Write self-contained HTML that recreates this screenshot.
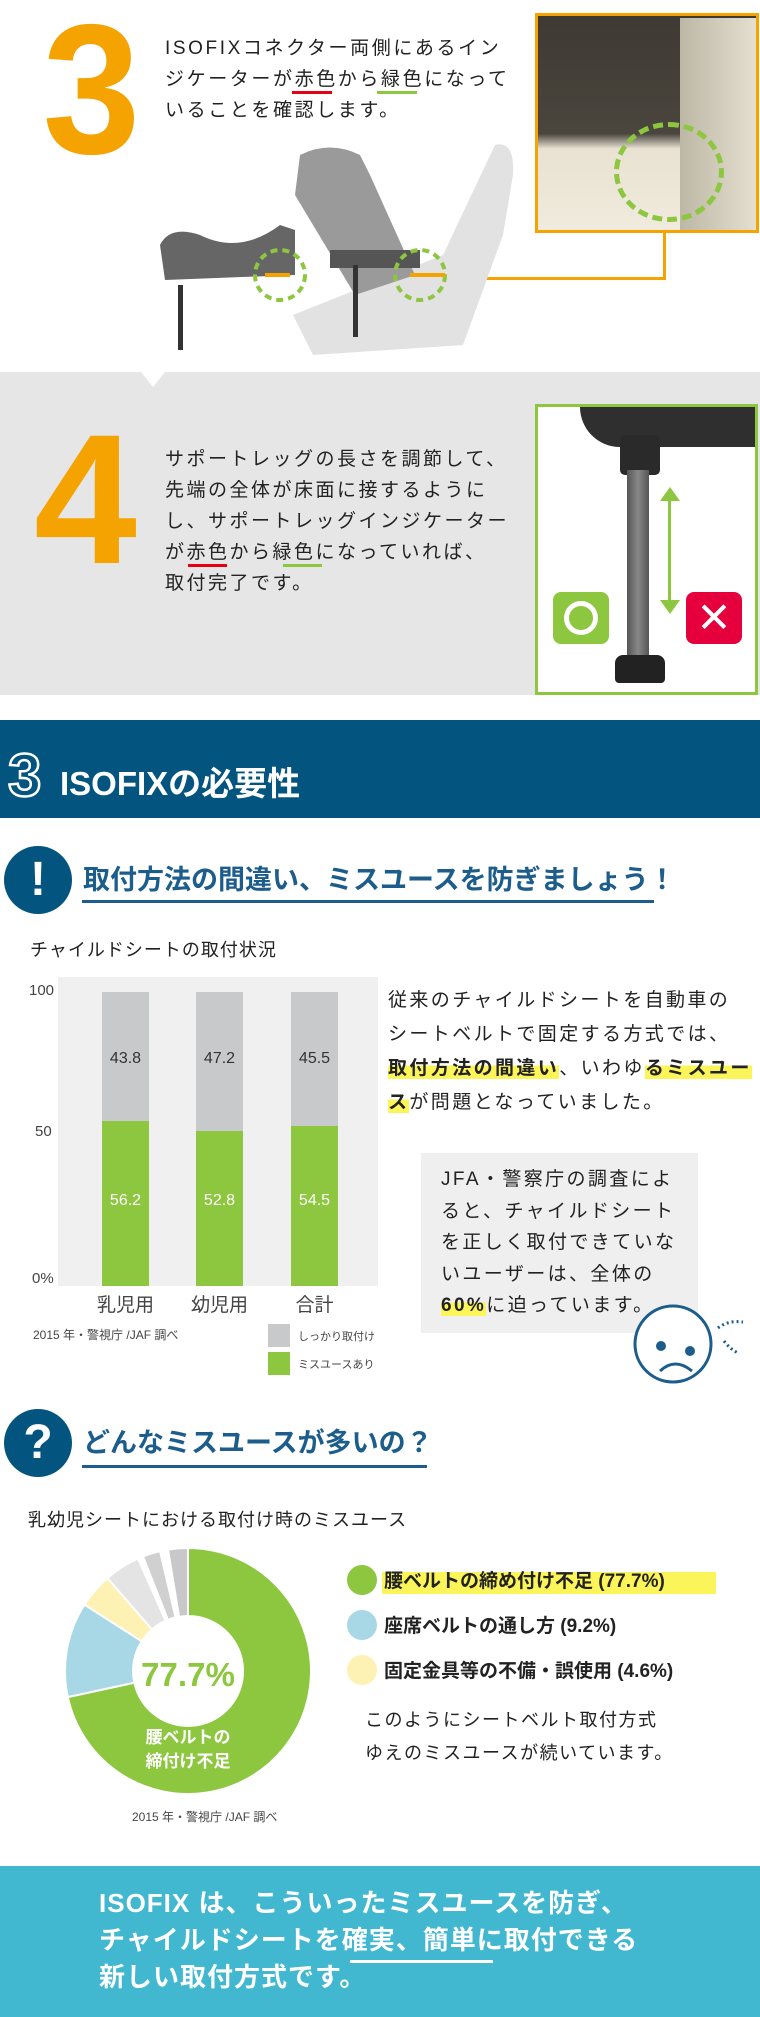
<!DOCTYPE html>
<html><head><meta charset="utf-8"><style>
*{margin:0;padding:0;box-sizing:border-box}
body{width:760px;height:2017px;position:relative;background:#fff;font-family:"Liberation Sans","Noto Sans CJK JP",sans-serif;color:#222;overflow:hidden}
.a{position:absolute;white-space:nowrap}
.p{font-size:19px;letter-spacing:3px;line-height:31px}
.big{font-weight:bold;color:#f5a300;font-size:185px;line-height:1}
.bar{position:absolute;width:47px}
.hl{background:linear-gradient(transparent 35%,#fbf55a 35%)}
</style></head><body>
<!-- step 3 -->
<div class="a big" style="left:40px;top:-2px;transform:scaleX(0.95)">3</div>
<div class="a p" style="left:165px;top:33px;letter-spacing:2.6px">ISOFIXコネクター両側にあるイン<br>ジケーターが赤色から緑色になって<br>いることを確認します。</div>
<div class="a" style="left:292px;top:91px;width:40px;height:3px;background:#e60012"></div>
<div class="a" style="left:377px;top:91px;width:40px;height:3px;background:#8dc63f"></div>
<div class="a" style="left:535px;top:13px;width:224px;height:220px;border:3px solid #f5a300;background:linear-gradient(180deg,#3e3a33 0%,#4a463e 55%,#e9e2d2 62%,#f0ebdd 100%)"></div>
<div class="a" style="left:680px;top:18px;width:76px;height:212px;background:linear-gradient(90deg,#bdb7a6,#e5dfcf)"></div>
<div class="a" style="left:614px;top:122px;width:110px;height:100px;border:5px dashed #8dc63f;border-radius:50%"></div>
<div class="a" style="left:663px;top:233px;width:3px;height:47px;background:#f5a300"></div>
<div class="a" style="left:446px;top:277px;width:220px;height:3px;background:#f5a300"></div>
<svg class="a" style="left:150px;top:135px" width="370" height="220">
<path d="M345 10 q20 -5 18 30 l-10 60 l-40 110 l-150 10 l-20 -40 l150 -60z" fill="#e2e2e2"/>
<path d="M150 20 q30 -15 60 0 l10 20 l45 100 l-60 20 l-60 -100z" fill="#9a9a9a"/>
<rect x="180" y="115" width="90" height="18" fill="#555"/>
<rect x="203" y="130" width="5" height="72" fill="#333"/>
<path d="M10 110 q10 -20 40 -10 q40 20 80 -10 l15 5 l0 45 l-130 5z" fill="#666"/>
<rect x="28" y="150" width="5" height="65" fill="#333"/>
<circle cx="130" cy="140" r="25" fill="none" stroke="#8dc63f" stroke-width="4" stroke-dasharray="7 5"/>
<circle cx="270" cy="140" r="25" fill="none" stroke="#8dc63f" stroke-width="4" stroke-dasharray="7 5"/>
<rect x="115" y="138" width="25" height="4" fill="#f5a300"/>
<rect x="260" y="138" width="35" height="4" fill="#f5a300"/>
</svg>
<!-- step 4 -->
<div class="a" style="left:0;top:372px;width:760px;height:323px;background:#e6e6e7"></div>
<div class="a" style="left:141px;top:372px;width:0;height:0;border-left:12px solid transparent;border-right:12px solid transparent;border-top:15px solid #fff"></div>
<div class="a big" style="left:34px;top:408px">4</div>
<div class="a p" style="left:165px;top:444px;letter-spacing:2.5px">サポートレッグの長さを調節して、<br>先端の全体が床面に接するように<br>し、サポートレッグインジケーター<br>が赤色から緑色になっていれば、<br>取付完了です。</div>
<div class="a" style="left:188px;top:564px;width:39px;height:3px;background:#e60012"></div>
<div class="a" style="left:283px;top:564px;width:39px;height:3px;background:#8dc63f"></div>
<div class="a" style="left:535px;top:404px;width:223px;height:291px;border:3px solid #8dc63f;background:#fff"></div>
<div class="a" style="left:580px;top:407px;width:175px;height:40px;background:#2f2f2f;border-radius:0 0 0 60px"></div>
<div class="a" style="left:620px;top:435px;width:40px;height:40px;background:#2a2a2a;border-radius:5px"></div>
<div class="a" style="left:627px;top:470px;width:22px;height:190px;background:linear-gradient(90deg,#555,#888,#555)"></div>
<div class="a" style="left:615px;top:655px;width:50px;height:28px;background:#222;border-radius:8px 8px 4px 4px"></div>
<div class="a" style="left:668px;top:490px;width:3px;height:110px;background:#8dc63f"></div>
<div class="a" style="left:660px;top:487px;border-left:10px solid transparent;border-right:10px solid transparent;border-bottom:14px solid #8dc63f"></div>
<div class="a" style="left:660px;top:600px;border-left:10px solid transparent;border-right:10px solid transparent;border-top:14px solid #8dc63f"></div>
<div class="a" style="left:553px;top:592px;width:56px;height:52px;background:#8dc63f;border-radius:8px"><div style="margin:9px 0 0 11px;width:34px;height:34px;border:5px solid #fff;border-radius:50%"></div></div>
<div class="a" style="left:686px;top:592px;width:56px;height:52px;background:#e5003d;border-radius:8px;color:#fff;font-size:42px;text-align:center;line-height:52px">✕</div>
<!-- header -->
<div class="a" style="left:0;top:720px;width:760px;height:98px;background:#03557f"></div>
<div class="a" style="left:8px;top:746px;font-size:60px;color:#03557f;-webkit-text-stroke:2.5px #fff;font-weight:bold;line-height:1">3</div>
<div class="a" style="left:60px;top:762px;font-size:33px;font-weight:bold;color:#fff;line-height:44px">ISOFIXの必要性</div>
<!-- ! heading -->
<div class="a" style="left:4px;top:846px;width:68px;height:68px;border-radius:50%;background:#03557f;color:#fff;font-size:48px;font-weight:bold;text-align:center;line-height:68px">!</div>
<div class="a" style="left:83px;top:862px;font-size:27px;font-weight:bold;color:#1c5d8c;line-height:36px">取付方法の間違い、ミスユースを防ぎましょう！</div>
<div class="a" style="left:82px;top:900px;width:572px;height:3px;background:#1c5d8c"></div>
<div class="a" style="left:30px;top:936px;font-size:18px;letter-spacing:1px">チャイルドシートの取付状況</div>
<!-- bar chart -->
<div class="a" style="left:58px;top:977px;width:320px;height:309px;background:#f0f0f0"></div>
<div class="a" style="left:29px;top:982px;font-size:15px;color:#444">100</div>
<div class="a" style="left:35px;top:1123px;font-size:15px;color:#444">50</div>
<div class="a" style="left:32px;top:1270px;font-size:15px;color:#444">0%</div>
<div class="bar" style="left:102px;top:992px;height:129px;background:#c8c9ca"></div>
<div class="bar" style="left:102px;top:1121px;height:165px;background:#8dc63f"></div>
<div class="bar" style="left:196px;top:992px;height:139px;background:#c8c9ca"></div>
<div class="bar" style="left:196px;top:1131px;height:155px;background:#8dc63f"></div>
<div class="bar" style="left:291px;top:992px;height:134px;background:#c8c9ca"></div>
<div class="bar" style="left:291px;top:1126px;height:160px;background:#8dc63f"></div>
<div class="a" style="left:102px;top:1050px;width:47px;text-align:center;font-size:16px;color:#333">43.8</div>
<div class="a" style="left:196px;top:1050px;width:47px;text-align:center;font-size:16px;color:#333">47.2</div>
<div class="a" style="left:291px;top:1050px;width:47px;text-align:center;font-size:16px;color:#333">45.5</div>
<div class="a" style="left:102px;top:1192px;width:47px;text-align:center;font-size:16px;color:#fff">56.2</div>
<div class="a" style="left:196px;top:1192px;width:47px;text-align:center;font-size:16px;color:#fff">52.8</div>
<div class="a" style="left:291px;top:1192px;width:47px;text-align:center;font-size:16px;color:#fff">54.5</div>
<div class="a" style="left:92px;top:1290px;width:67px;text-align:center;font-size:19px;color:#444">乳児用</div>
<div class="a" style="left:186px;top:1290px;width:67px;text-align:center;font-size:19px;color:#444">幼児用</div>
<div class="a" style="left:281px;top:1290px;width:67px;text-align:center;font-size:19px;color:#444">合計</div>
<div class="a" style="left:33px;top:1326px;font-size:12px;color:#444">2015 年・警視庁 /JAF 調べ</div>
<div class="a" style="left:268px;top:1324px;width:22px;height:23px;background:#c8c9ca"></div>
<div class="a" style="left:268px;top:1352px;width:22px;height:23px;background:#8dc63f"></div>
<div class="a" style="left:298px;top:1328px;font-size:11px;color:#444">しっかり取付け</div>
<div class="a" style="left:298px;top:1356px;font-size:11px;color:#444">ミスユースあり</div>
<div class="a p" style="left:388px;top:984px;line-height:34px;letter-spacing:2.4px">従来のチャイルドシートを自動車の<br>シートベルトで固定する方式では、<br><b class="hl">取付方法の間違い</b>、いわゆ<b class="hl">るミスユー<br>ス</b>が問題となっていました。</div>
<div class="a" style="left:421px;top:1153px;width:277px;height:180px;background:#efefef"></div>
<div class="a p" style="left:441px;top:1164px;line-height:31.5px;letter-spacing:2.4px">JFA・警察庁の調査によ<br>ると、チャイルドシート<br>を正しく取付できていな<br>いユーザーは、全体の<br><b class="hl">60%</b>に迫っています。</div>
<svg class="a" style="left:628px;top:1296px" width="132" height="95">
<circle cx="45" cy="48" r="38" fill="#fff" stroke="#1c5d8c" stroke-width="3"/>
<circle cx="33" cy="50" r="5" fill="#1c5d8c"/><circle cx="62" cy="55" r="5" fill="#1c5d8c"/>
<path d="M32 75 q15 -14 32 0" fill="none" stroke="#1c5d8c" stroke-width="3"/>
<path d="M90 32 q10 -8 25 -6 M96 45 q6 8 14 12" fill="none" stroke="#1c5d8c" stroke-width="3" stroke-dasharray="2 3"/>
</svg>
<!-- ? heading -->
<div class="a" style="left:4px;top:1409px;width:68px;height:68px;border-radius:50%;background:#03557f;color:#fff;font-size:48px;font-weight:bold;text-align:center;line-height:68px">?</div>
<div class="a" style="left:83px;top:1425px;font-size:27px;font-weight:bold;color:#1c5d8c;line-height:36px">どんなミスユースが多いの？</div>
<div class="a" style="left:82px;top:1465px;width:345px;height:3px;background:#1c5d8c"></div>
<div class="a" style="left:28px;top:1506px;font-size:18px;letter-spacing:1px">乳幼児シートにおける取付け時のミスユース</div>
<svg class="a" style="left:60px;top:1543px" width="256" height="256">
<g transform="translate(128,128)" stroke="#fff" stroke-width="2">
<path d="M0 -123 A123 123 0 1 1 -120.2 26.1 L-53.7 11.7 A55 55 0 1 0 0 -55Z" fill="#8dc63f"/>
<path d="M-120.2 26.1 A123 123 0 0 1 -103.5 -66.4 L-46.3 -29.7 A55 55 0 0 0 -53.7 11.7Z" fill="#a8d8e6"/>
<path d="M-103.5 -66.4 A123 123 0 0 1 -80.6 -92.9 L-36 -41.6 A55 55 0 0 0 -46.3 -29.7Z" fill="#fdf2b3"/>
<path d="M-80.6 -92.9 A123 123 0 0 1 -50 -112.4 L-22.4 -50.3 A55 55 0 0 0 -36 -41.6Z" fill="#e4e4e4"/>
<path d="M-45 -114.5 A123 123 0 0 1 -28 -119.8 L-12.5 -53.6 A55 55 0 0 0 -20.1 -51.2Z" fill="#d0d0d0"/>
<path d="M-20 -121.4 A123 123 0 0 1 0 -123 L0 -55 A55 55 0 0 0 -8.9 -54.2Z" fill="#c8c8c8"/>
</g>
<text x="128" y="143" text-anchor="middle" font-size="33" font-weight="bold" fill="#8dc63f" font-family="Liberation Sans" textLength="94" lengthAdjust="spacingAndGlyphs">77.7%</text>
<text x="128" y="200" text-anchor="middle" font-size="17" font-weight="bold" fill="#fff" font-family="Liberation Sans,Noto Sans CJK JP">腰ベルトの</text>
<text x="128" y="224" text-anchor="middle" font-size="17" font-weight="bold" fill="#fff" font-family="Liberation Sans,Noto Sans CJK JP">締付け不足</text>
</svg>
<div class="a" style="left:347px;top:1565px;width:30px;height:30px;border-radius:50%;background:#8dc63f"></div>
<div class="a" style="left:347px;top:1610px;width:30px;height:30px;border-radius:50%;background:#a8d8e6"></div>
<div class="a" style="left:347px;top:1655px;width:30px;height:30px;border-radius:50%;background:#fdf2b3"></div>
<div class="a" style="left:382px;top:1572px;width:334px;height:22px;background:#fbf55a"></div>
<div class="a" style="left:384px;top:1566px;font-size:19px;font-weight:bold">腰ベルトの締め付け不足 (77.7%)</div>
<div class="a" style="left:384px;top:1611px;font-size:19px;font-weight:bold">座席ベルトの通し方 (9.2%)</div>
<div class="a" style="left:384px;top:1656px;font-size:19px;font-weight:bold">固定金具等の不備・誤使用 (4.6%)</div>
<div class="a" style="left:365px;top:1704px;font-size:18px;line-height:33px;letter-spacing:1.5px">このようにシートベルト取付方式<br>ゆえのミスユースが続いています。</div>
<div class="a" style="left:132px;top:1808px;font-size:12px;color:#444">2015 年・警視庁 /JAF 調べ</div>
<!-- bottom -->
<div class="a" style="left:0;top:1866px;width:760px;height:151px;background:#41b8d0"></div>
<div class="a" style="left:99px;top:1885px;font-size:26px;font-weight:bold;color:#fff;line-height:37px;letter-spacing:1px">ISOFIX は、こういったミスユースを防ぎ、<br>チャイルドシートを確実、簡単に取付できる<br>新しい取付方式です。</div>
<div class="a" style="left:350px;top:1960px;width:143px;height:3px;background:#fff"></div>
</body></html>
